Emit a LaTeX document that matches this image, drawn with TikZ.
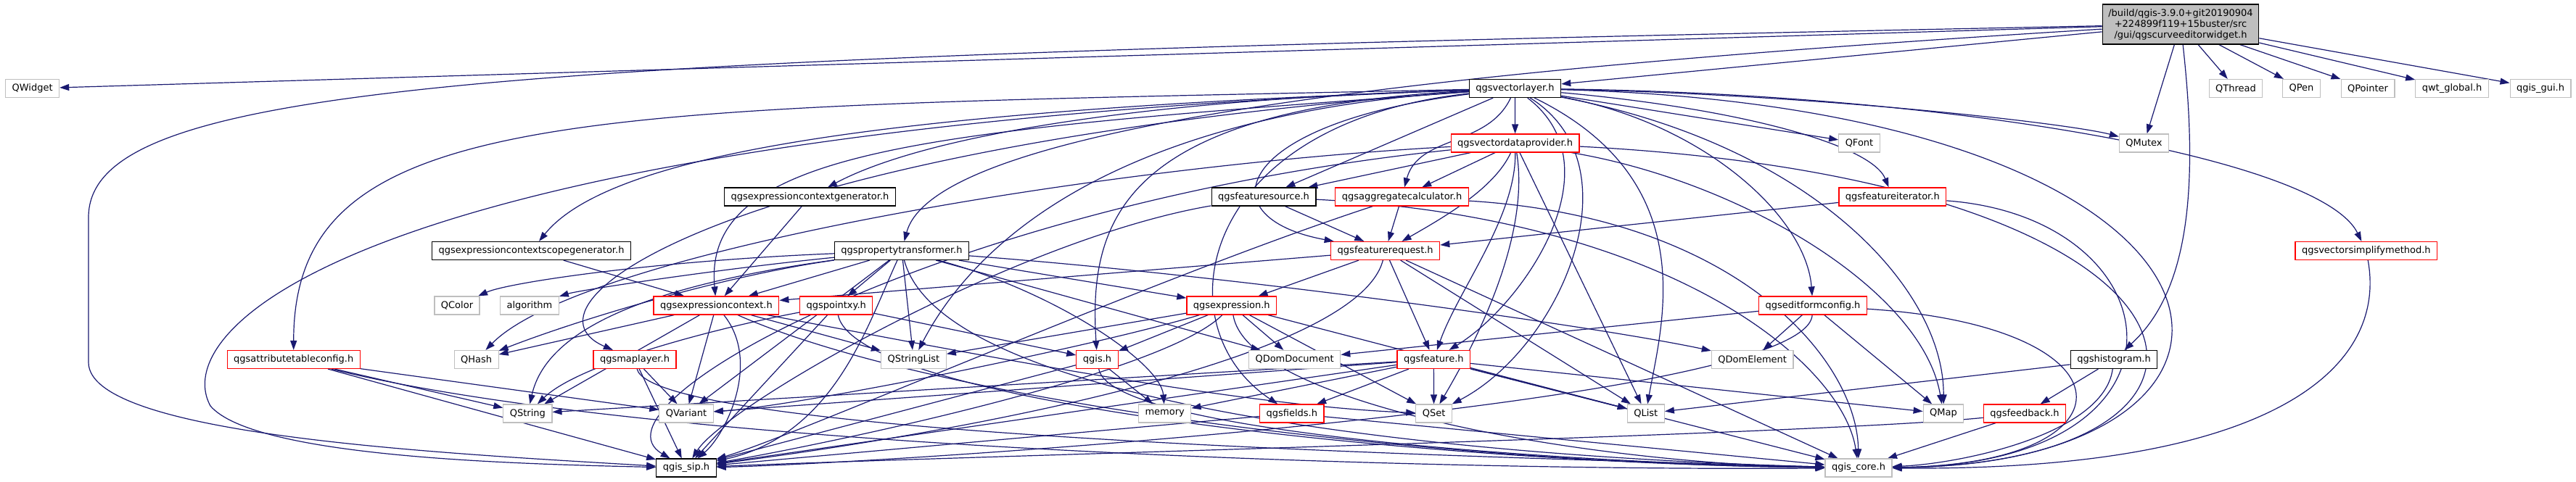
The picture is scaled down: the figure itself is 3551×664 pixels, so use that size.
\documentclass[tikz,border=0pt]{standalone}
\usepackage{fontspec}
\setmainfont{DejaVu Sans}
\usetikzlibrary{arrows.meta, positioning}

\definecolor{edgeblue}{HTML}{191970}
\definecolor{boxred}{HTML}{FF0000}
\definecolor{boxgray}{HTML}{BFBFBF}

\pgfdeclarelayer{back}
\pgfsetlayers{back,main}

\tikzset{
  box/.style={rectangle, draw, fill=white, font=\fontsize{13}{15}\selectfont,
    inner xsep=9pt, inner ysep=0pt, minimum height=25pt, line width=1.2pt},
  docbox/.style={box, draw=black},
  redbox/.style={box, draw=boxred},
  extbox/.style={box, draw=boxgray},
  rootbox/.style={box, draw=black, fill=boxgray, align=center, minimum height=55pt, inner xsep=8pt},
  dep/.style={draw=edgeblue, line width=1.2pt, -{Triangle[length=13pt,width=9pt]}},
}

\begin{document}
\begin{tikzpicture}[x=1pt, y=1pt]
    \useasboundingbox (0,0) rectangle (3551,-664);

    % the header itself
    \node[rootbox] (root) at (3006,-33.5) {/build/qgis-3.9.0+git20190904\\+224899f119+15buster/src\\/gui/qgscurveeditorwidget.h};

    % row 1
    \node[extbox] (qwidget) at (44.6,-122) {QWidget};
    \node[docbox] (vlayer) at (2088.5,-122) {qgsvectorlayer.h};
    \node[extbox] (qthread) at (3082,-122) {QThread};
    \node[extbox] (qpen) at (3172.5,-122) {QPen};
    \node[extbox] (qpointer) at (3264,-122) {QPointer};
    \node[extbox] (qwtglobal) at (3380,-122) {qwt\_global.h};
    \node[extbox] (qgisgui) at (3502,-122) {qgis\_gui.h};

    % row 2
    \node[redbox] (vdp) at (2088.6,-197.5) {qgsvectordataprovider.h};
    \node[extbox] (qfont) at (2563,-197.5) {QFont};
    \node[extbox] (qmutex) at (2955.5,-197.5) {QMutex};

    % row 3
    \node[docbox] (ctxgen) at (1116.5,-271.5) {qgsexpressioncontextgenerator.h};
    \node[docbox] (fsource) at (1742,-271.5) {qgsfeaturesource.h};
    \node[redbox] (aggcalc) at (1932.5,-271.5) {qgsaggregatecalculator.h};
    \node[redbox] (fiter) at (2608.8,-271.5) {qgsfeatureiterator.h};

    % row 4
    \node[docbox] (scopegen) at (732.5,-346) {qgsexpressioncontextscopegenerator.h};
    \node[docbox] (proptrans) at (1243,-346) {qgspropertytransformer.h};
    \node[redbox] (freq) at (1909.7,-346) {qgsfeaturerequest.h};
    \node[redbox] (simplify) at (3261.8,-346) {qgsvectorsimplifymethod.h};

    % row 5
    \node[extbox] (qcolor) at (630,-421.5) {QColor};
    \node[extbox] (algorithm) at (729.9,-421.5) {algorithm};
    \node[redbox] (expctx) at (987.4,-421.5) {qgsexpressioncontext.h};
    \node[redbox] (pointxy) at (1152.7,-421.5) {qgspointxy.h};
    \node[redbox] (expr) at (1697.8,-421.5) {qgsexpression.h};
    \node[redbox] (editform) at (2499,-421.5) {qgseditformconfig.h};

    % row 6
    \node[redbox] (attrtable) at (404.7,-496) {qgsattributetableconfig.h};
    \node[extbox] (qhash) at (656.6,-496) {QHash};
    \node[redbox] (maplayer) at (875,-496) {qgsmaplayer.h};
    \node[extbox] (qstringlist) at (1259.4,-496) {QStringList};
    \node[redbox] (qgis) at (1512.5,-496) {qgis.h};
    \node[extbox] (qdomdoc) at (1784.6,-496) {QDomDocument};
    \node[redbox] (feature) at (1976.3,-496) {qgsfeature.h};
    \node[extbox] (qdomelem) at (2415.7,-496) {QDomElement};
    \node[docbox] (histogram) at (2914,-496) {qgshistogram.h};

    % row 7
    \node[extbox] (qstring) at (727.4,-570.5) {QString};
    \node[extbox] (qvariant) at (946,-570.5) {QVariant};
    \node[extbox] (memory) at (1605.7,-570.5) {memory};
    \node[redbox] (fields) at (1780.8,-570.5) {qgsfields.h};
    \node[extbox] (qset) at (1976.6,-570.5) {QSet};
    \node[extbox] (qlist) at (2268.8,-570.5) {QList};
    \node[extbox] (qmap) at (2679,-570.5) {QMap};
    \node[redbox] (feedback) at (2791,-570.5) {qgsfeedback.h};

    % row 8
    \node[docbox] (sip) at (946,-645.5) {qgis\_sip.h};
    \node[extbox] (core) at (2562,-645.5) {qgis\_core.h};

    \begin{pgfonlayer}{back}
    % includes of the header
    \draw[dep] (root) -- (qwidget);
    \draw[dep] (root) -- (vlayer);
    \draw[dep] (root) -- (qthread);
    \draw[dep] (root) -- (qpen);
    \draw[dep] (root) -- (qpointer);
    \draw[dep] (root) -- (qwtglobal);
    \draw[dep] (root) -- (qgisgui);
    \draw[dep] (root) -- (qmutex);
    \draw[dep] (root) .. controls (3030,-250) and (3020,-400) .. (histogram);
    \draw[dep] (root) .. controls (2000,-95) and (1290,-170) .. (proptrans);
    \draw[dep] (root) .. controls (700,-80) and (122,-110) .. (122,-300) -- (122,-500) .. controls (122,-600) and (600,-625) .. (sip);

    % qgsvectorlayer.h
    \draw[dep] (vlayer) -- (qfont);
    \draw[dep] (vlayer) .. controls (2500,-130) and (2850,-170) .. (qmutex);
    \draw[dep] (vlayer) -- (vdp);
    \draw[dep] (vlayer) -- (fsource);
    \draw[dep] (vlayer) to[out=-115,in=75] (aggcalc);
    \draw[dep] (vlayer) .. controls (1500,-140) and (1250,-200) .. (ctxgen);
    \draw[dep] (vlayer) .. controls (1300,-150) and (850,-200) .. (scopegen);
    \draw[dep] (vlayer) .. controls (1300,-180) and (967,-200) .. (expctx);
    \draw[dep] (vlayer) .. controls (800,-150) and (405,-140) .. (attrtable);
    \draw[dep] (vlayer) .. controls (1000,-200) and (700,-420) .. (maplayer);
    \draw[dep] (vlayer) .. controls (1550,-150) and (1500,-300) .. (qgis);
    \draw[dep] (vlayer) .. controls (1500,-160) and (1330,-360) .. (qstringlist);
    \draw[dep] (vlayer) .. controls (1650,-170) and (1600,-450) .. (fields);
    \draw[dep] (vlayer) .. controls (1700,-170) and (1660,-300) .. (freq);
    \draw[dep] (vlayer) .. controls (2230,-230) and (2100,-420) .. (feature);
    \draw[dep] (vlayer) .. controls (2260,-230) and (2150,-480) .. (qset);
    \draw[dep] (vlayer) .. controls (2350,-250) and (2290,-450) .. (qlist);
    \draw[dep] (vlayer) .. controls (2500,-200) and (2680,-400) .. (qmap);
    \draw[dep] (vlayer) .. controls (2400,-150) and (2580,-200) .. (fiter);
    \draw[dep] (vlayer) .. controls (2350,-170) and (2490,-300) .. (editform);
    \draw[dep] (vlayer) .. controls (2700,-130) and (3200,-220) .. (simplify);
    \draw[dep] (vlayer) .. controls (3150,-150) and (3200,-640) .. (core);
    \draw[dep] (vlayer) .. controls (500,-180) and (230,-450) .. (290,-560) .. controls (350,-630) and (700,-640) .. (sip);

    % qgsvectordataprovider.h
    \draw[dep] (vdp) -- (fsource);
    \draw[dep] (vdp) -- (aggcalc);
    \draw[dep] (vdp) .. controls (2060,-260) and (1990,-300) .. (freq);
    \draw[dep] (vdp) .. controls (2090,-300) and (2010,-400) .. (feature);
    \draw[dep] (vdp) .. controls (2110,-330) and (2030,-480) .. (qset);
    \draw[dep] (vdp) -- (qlist);
    \draw[dep] (vdp) .. controls (2400,-250) and (2650,-400) .. (qmap);
    \draw[dep] (vdp) .. controls (3100,-250) and (3150,-640) .. (core);
    \draw[dep] (vdp) .. controls (1500,-230) and (800,-350) .. (qhash);
    \draw[dep] (vdp) .. controls (1300,-280) and (800,-560) .. (sip);

    % qgsfeaturesource.h, qgsaggregatecalculator.h
    \draw[dep] (fsource) -- (freq);
    \draw[dep] (fsource) .. controls (2300,-300) and (2540,-500) .. (core);
    \draw[dep] (fsource) .. controls (1400,-330) and (1000,-560) .. (sip);
    \draw[dep] (aggcalc) -- (freq);
    \draw[dep] (aggcalc) .. controls (2400,-300) and (2560,-500) .. (core);
    \draw[dep] (aggcalc) .. controls (1600,-380) and (1100,-600) .. (sip);

    % generators
    \draw[dep] (ctxgen) -- (expctx);
    \draw[dep] (scopegen) -- (expctx);

    % qgspropertytransformer.h
    \draw[dep] (proptrans) .. controls (900,-360) and (700,-390) .. (qcolor);
    \draw[dep] (proptrans) .. controls (1000,-370) and (800,-400) .. (algorithm);
    \draw[dep] (proptrans) -- (expctx);
    \draw[dep] (proptrans) -- (pointxy);
    \draw[dep] (proptrans) -- (qstringlist);
    \draw[dep] (proptrans) -- (expr);
    \draw[dep] (proptrans) .. controls (1450,-400) and (1600,-500) .. (memory);
    \draw[dep] (proptrans) -- (qdomdoc);
    \draw[dep] (proptrans) .. controls (1700,-380) and (2200,-450) .. (qdomelem);
    \draw[dep] (proptrans) .. controls (1000,-380) and (800,-440) .. (qhash);
    \draw[dep] (proptrans) .. controls (850,-400) and (750,-470) .. (qstring);
    \draw[dep] (proptrans) -- (qvariant);
    \draw[dep] (proptrans) .. controls (1195,-450) and (1150,-600) .. (sip);
    \draw[dep] (proptrans) .. controls (1300,-560) and (2000,-630) .. (core);

    % qgsfeaturerequest.h, qgsfeatureiterator.h, qgsvectorsimplifymethod.h
    \draw[dep] (freq) -- (expctx);
    \draw[dep] (freq) -- (expr);
    \draw[dep] (freq) -- (feature);
    \draw[dep] (freq) -- (qlist);
    \draw[dep] (freq) .. controls (1870,-500) and (1300,-600) .. (sip);
    \draw[dep] (freq) -- (core);
    \draw[dep] (fiter) -- (freq);
    \draw[dep] (fiter) .. controls (3000,-300) and (3050,-640) .. (core);
    \draw[dep] (simplify) .. controls (3290,-500) and (3150,-650) .. (core);

    % qgsexpressioncontext.h
    \draw[dep] (expctx) -- (qstringlist);
    \draw[dep] (expctx) -- (qvariant);
    \draw[dep] (expctx) -- (qstring);
    \draw[dep] (expctx) -- (qhash);
    \draw[dep] (expctx) .. controls (1300,-480) and (1700,-560) .. (qset);
    \draw[dep] (expctx) .. controls (1050,-500) and (1000,-600) .. (sip);
    \draw[dep] (expctx) .. controls (1300,-560) and (2000,-640) .. (core);

    % qgspointxy.h
    \draw[dep] (pointxy) -- (qgis);
    \draw[dep] (pointxy) .. controls (1000,-450) and (800,-500) .. (qstring);
    \draw[dep] (pointxy) -- (sip);
    \draw[dep] (pointxy) .. controls (1180,-560) and (2000,-640) .. (core);

    % qgsexpression.h
    \draw[dep] (expr) -- (qstringlist);
    \draw[dep] (expr) -- (qgis);
    \draw[dep] (expr) -- (qdomdoc);
    \draw[dep] (expr) .. controls (1500,-480) and (1100,-560) .. (qvariant);
    \draw[dep] (expr) -- (qlist);
    \draw[dep] (expr) -- (qset);
    \draw[dep] (expr) .. controls (1600,-520) and (1100,-620) .. (sip);
    \draw[dep] (expr) .. controls (1720,-560) and (2200,-640) .. (core);

    % qgseditformconfig.h
    \draw[dep] (editform) -- (qdomelem);
    \draw[dep] (editform) -- (qmap);
    \draw[dep] (editform) -- (qdomdoc);
    \draw[dep] (editform) .. controls (2490,-560) and (1200,-640) .. (sip);
    \draw[dep] (editform) .. controls (2950,-450) and (2950,-640) .. (core);

    % row 6 headers
    \draw[dep] (attrtable) -- (qstring);
    \draw[dep] (attrtable) -- (qvariant);
    \draw[dep] (attrtable) -- (sip);
    \draw[dep] (attrtable) .. controls (900,-620) and (2000,-650) .. (core);
    \draw[dep] (maplayer) -- (qvariant);
    \draw[dep] (maplayer) -- (sip);
    \draw[dep] (maplayer) .. controls (900,-600) and (2000,-630) .. (core);
    \draw[dep] (qgis) -- (memory);
    \draw[dep] (qgis) -- (sip);
    \draw[dep] (qgis) .. controls (1530,-600) and (2200,-640) .. (core);

    % qgsfeature.h
    \draw[dep] (feature) -- (qset);
    \draw[dep] (feature) -- (qlist);
    \draw[dep] (feature) -- (qmap);
    \draw[dep] (feature) -- (memory);
    \draw[dep] (feature) -- (fields);
    \draw[dep] (feature) -- (qvariant);
    \draw[dep] (feature) -- (qstring);
    \draw[dep] (feature) -- (sip);
    \draw[dep] (feature) -- (core);

    % remaining
    \draw[dep] (fields) -- (sip);
    \draw[dep] (fields) -- (core);
    \draw[dep] (histogram) -- (qlist);
    \draw[dep] (histogram) -- (feedback);
    \draw[dep] (histogram) .. controls (2900,-600) and (2700,-640) .. (core);
    \draw[dep] (feedback) -- (core);
    \draw[dep] (feedback) .. controls (2500,-600) and (1300,-630) .. (sip);
    \end{pgfonlayer}

\end{tikzpicture}
\end{document}
